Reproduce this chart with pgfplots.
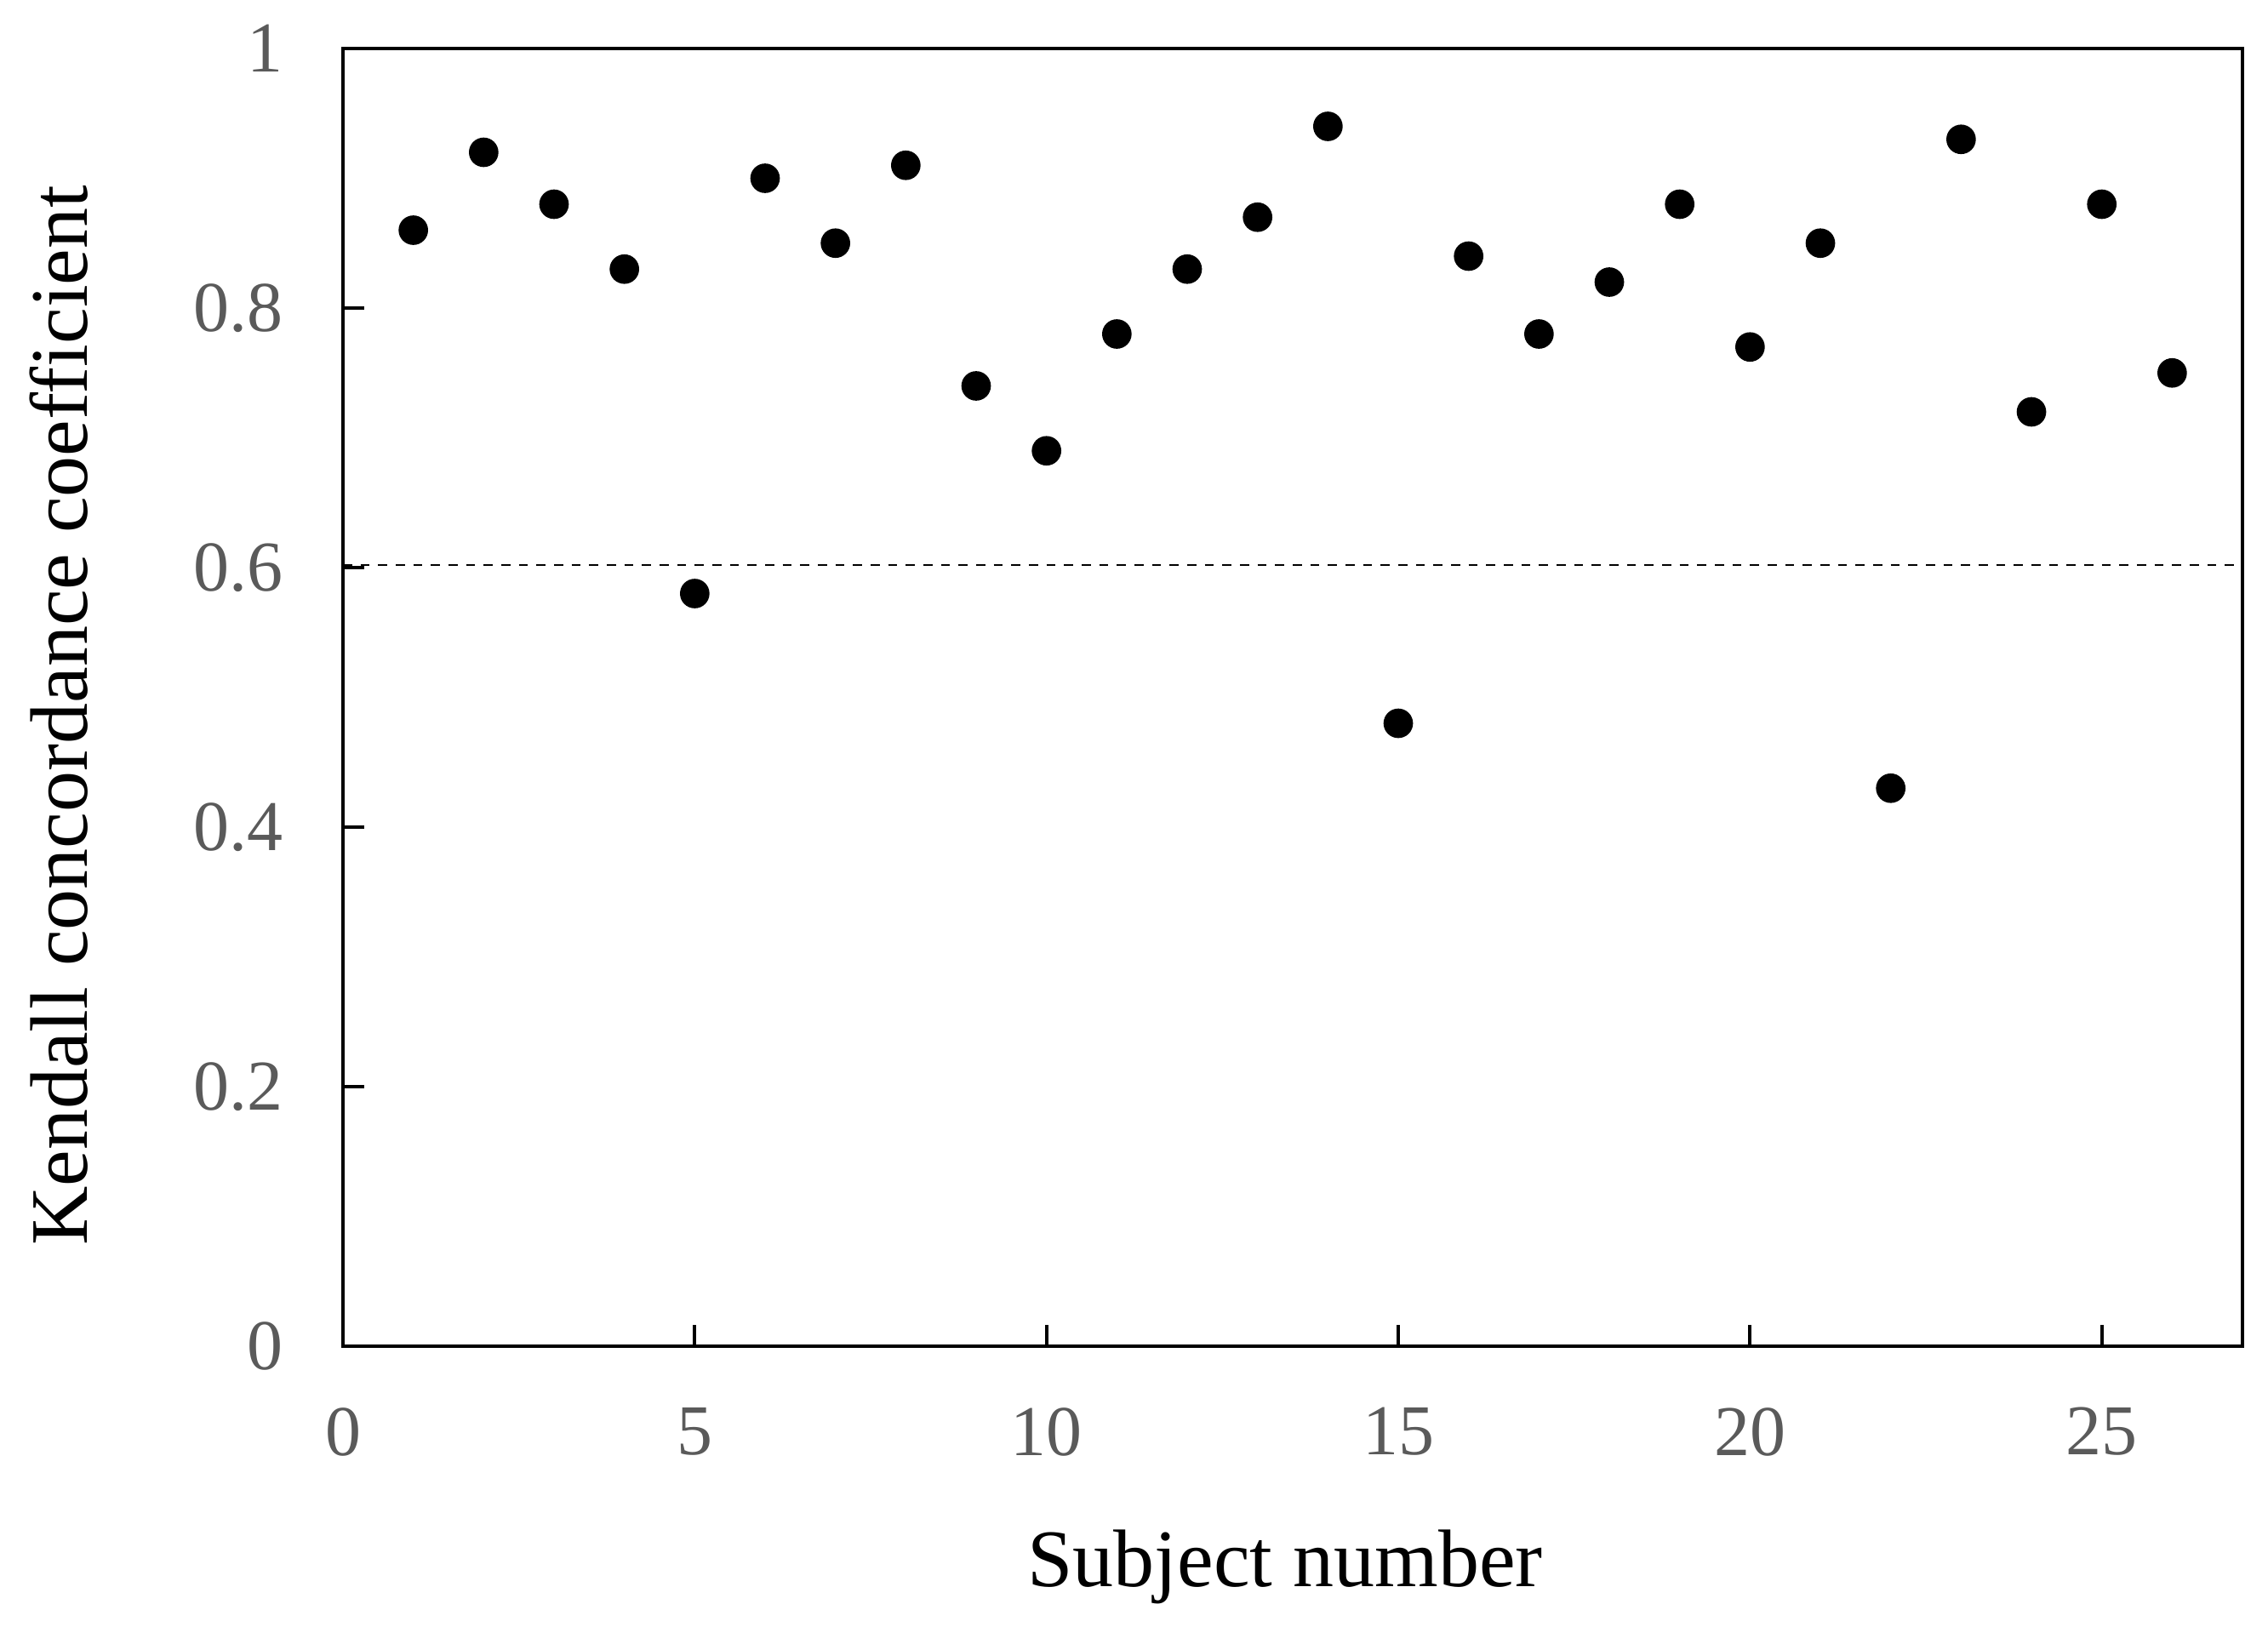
\documentclass[border=0pt]{standalone}
\usepackage{fontspec}
\setmainfont{Liberation Serif}
\usepackage{pgfplots}
\pgfplotsset{compat=1.18}

\definecolor{ticktext}{HTML}{5A5A5A}

\begin{document}
\begin{tikzpicture}
\begin{axis}[
    scale only axis,
    width=334.8pt, height=228.75pt,
    xmin=0, xmax=27,
    ymin=0, ymax=1,
    xtick={0,5,10,15,20,25},
    ytick={0,0.2,0.4,0.6,0.8,1},
    yticklabels={0,0.2,0.4,0.6,0.8,1},
    tick align=inside,
    xtick pos=bottom, ytick pos=left,
    major tick length=3.75pt,
    axis line style={line width=0.6pt},
    every tick/.style={black, line width=0.6pt},
    /pgf/number format/assume math mode=true,
    tick label style={font=\fontsize{12.6}{15}\selectfont, text=ticktext},
    xticklabel style={yshift=-7.3pt},
    yticklabel style={xshift=-7pt},
    xlabel={Subject number},
    ylabel={Kendall concordance coefficient},
    label style={font=\fontsize{14.4}{17}\selectfont},
    xlabel style={at={(axis description cs:0.496,0)}, anchor=center, yshift=-38.9pt},
    ylabel style={at={(axis description cs:0,0.486)}, anchor=center, rotate=0, yshift=50pt},
    clip=false,
]
% threshold
\addplot[black, line width=0.35pt, dash pattern=on 1.6pt off 1.5pt] coordinates {(0,0.602) (27,0.602)};

% coefficients per subject
\addplot[only marks, mark=*, mark size=2.4pt, black] coordinates {
(1,0.860) (2,0.920) (3,0.880) (4,0.830) (5,0.580)
(6,0.900) (7,0.850) (8,0.910) (9,0.740) (10,0.690)
(11,0.780) (12,0.830) (13,0.870) (14,0.940) (15,0.480)
(16,0.840) (17,0.780) (18,0.820) (19,0.880) (20,0.770)
(21,0.850) (22,0.430) (23,0.930) (24,0.720) (25,0.880)
(26,0.750)
};

\coordinate (bl) at (rel axis cs:0,0);
\coordinate (tr) at (rel axis cs:1,1);
\end{axis}
\pgfresetboundingbox
\useasboundingbox ([shift={(-60.45pt,-49.35pt)}]bl) rectangle ([shift={(4.5pt,8.55pt)}]tr);
\end{tikzpicture}
\end{document}
